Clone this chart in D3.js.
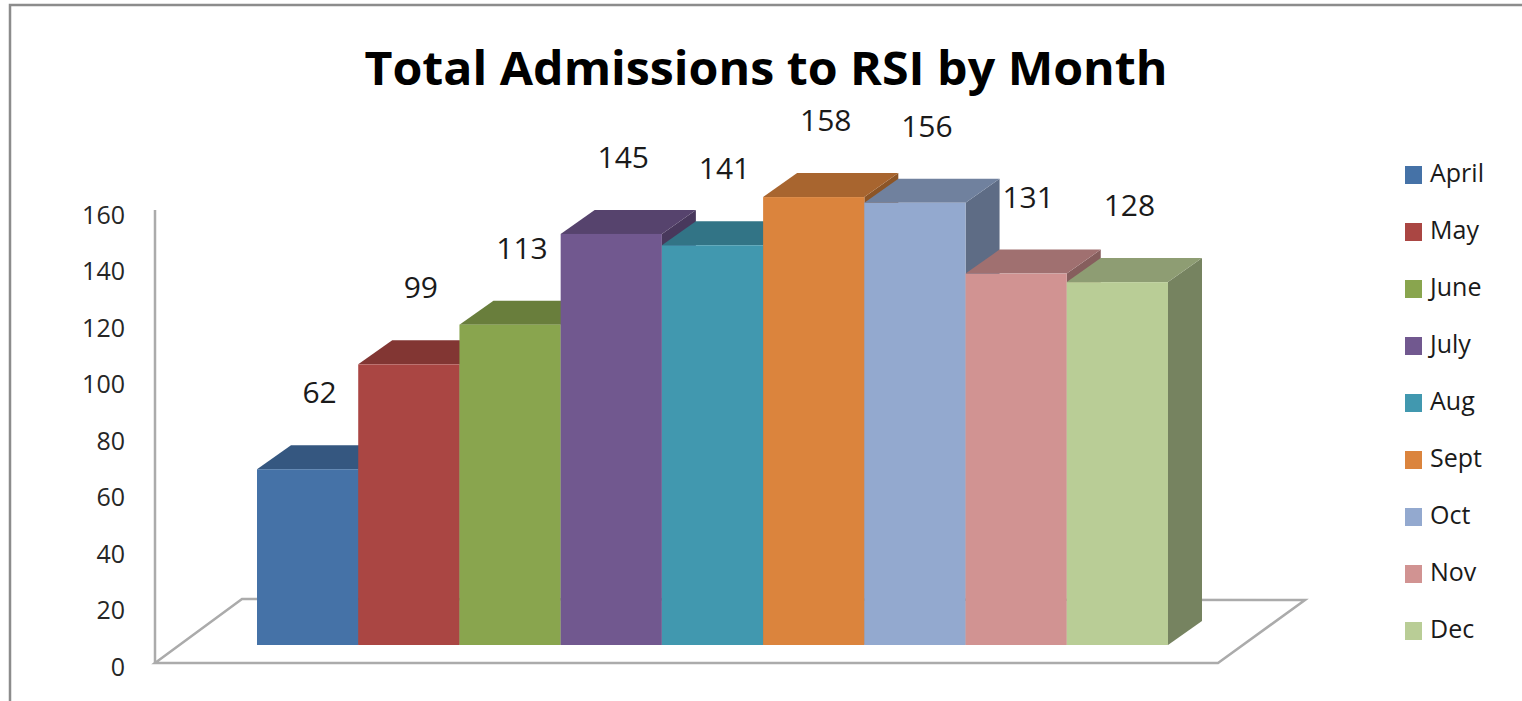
<!DOCTYPE html>
<html>
<head>
<meta charset="utf-8">
<script src="https://cdn.jsdelivr.net/npm/d3@7"></script>
<style>
  body { margin: 0; background: #fff; }
  text { font-family: "Open Sans", sans-serif; }
</style>
</head>
<body>
<div id="chart"></div>
<script>
const months = ["April", "May", "June", "July", "Aug", "Sept", "Oct", "Nov", "Dec"];
const admissions = [62, 99, 113, 145, 141, 158, 156, 131, 128];
const colors = ["#4572A7", "#AA4643", "#89A54E", "#71588F", "#4198AF", "#DB843D", "#93A9CF", "#D19392", "#B9CD96"];
const yTicks = [0, 20, 40, 60, 80, 100, 120, 140, 160];

let width = 1522,
    height = 701;

// floor corners and depth of the 3d box
const floor = { left: 155, right: 1218, front: 663, back: 600, depthX: 87 };
const depth = { dx: 34, dy: -24 };

const svg = d3.select("#chart")
  .append("svg")
  .attr("width", width)
  .attr("height", height);

svg.append("rect").attr("width", width).attr("height", height).attr("fill", "#fff");

// outer frame (only top & left edges are in view)
svg.append("path")
  .attr("d", `M10,${height} V5 H${width}`)
  .attr("fill", "none")
  .attr("stroke", "#8c8c8c")
  .attr("stroke-width", 2.5);

// title
const title = svg.append("text")
  .attr("x", 766)
  .attr("y", 85)
  .attr("text-anchor", "middle")
  .style("font-size", "46px")
  .style("font-weight", "bold")
  .attr("fill", "#000")
  .text("Total Admissions to RSI by Month");
title.attr("textLength", 803).attr("lengthAdjust", "spacingAndGlyphs");

let x = d3.scaleBand()
  .domain(months)
  .range([257, 1168])
  .padding(0);

let y = d3.scaleLinear()
  .domain([0, 160])
  .range([645, 191.4]);

let yAxisScale = d3.scaleLinear()
  .domain([0, 160])
  .range([667, 215]);

// floor
svg.append("path")
  .attr("d", `M${floor.left},${floor.front} L${floor.right},${floor.front} L${floor.right + floor.depthX},${floor.back} L${floor.left + floor.depthX},${floor.back - 1} Z`)
  .attr("fill", "none")
  .attr("stroke", "#ababab")
  .attr("stroke-width", 2.5);

// vertical axis
svg.append("line")
  .attr("x1", floor.left).attr("x2", floor.left)
  .attr("y1", floor.front).attr("y2", 210)
  .attr("stroke", "#ababab")
  .attr("stroke-width", 2.5);

const yAxis = svg.append("g")
  .attr("transform", `translate(${floor.left},0)`)
  .call(d3.axisLeft(yAxisScale).tickValues(yTicks).tickSize(0).tickPadding(30));
yAxis.select(".domain").remove();
yAxis.selectAll("text")
  .style("font-size", "25px")
  .style("font-family", "'Open Sans', sans-serif")
  .attr("fill", "#262626");

// bars: side, top, front, drawn left to right
const bars = svg.append("g")
  .selectAll("g")
  .data(months)
  .join("g");

bars.append("path")
  .attr("fill", (d, i) => d3.color(colors[i]).darker(1.25))
  .attr("d", (d, i) => {
    let x1 = x(d) + x.bandwidth(), yt = y(admissions[i]), yb = y(0);
    return `M${x1},${yb} L${x1 + depth.dx},${yb + depth.dy} L${x1 + depth.dx},${yt + depth.dy} L${x1},${yt} Z`;
  });

bars.append("path")
  .attr("fill", (d, i) => d3.color(colors[i]).darker(0.75))
  .attr("d", (d, i) => {
    let x0 = x(d), x1 = x0 + x.bandwidth(), yt = y(admissions[i]);
    return `M${x0},${yt} L${x0 + depth.dx},${yt + depth.dy} L${x1 + depth.dx},${yt + depth.dy} L${x1},${yt} Z`;
  });

bars.append("rect")
  .attr("x", d => x(d))
  .attr("y", (d, i) => y(admissions[i]))
  .attr("width", x.bandwidth())
  .attr("height", (d, i) => y(0) - y(admissions[i]))
  .attr("fill", (d, i) => colors[i]);

// data labels
svg.append("g")
  .selectAll("text")
  .data(months)
  .join("text")
  .attr("x", d => x(d) + x.bandwidth() / 2 + 12)
  .attr("y", (d, i) => y(admissions[i]) - 74)
  .attr("text-anchor", "middle")
  .attr("dominant-baseline", "middle")
  .style("font-size", "30px")
  .attr("fill", "#1a1a1a")
  .text((d, i) => admissions[i]);

// legend
const legend = svg.append("g")
  .selectAll("g")
  .data(months)
  .join("g")
  .attr("transform", (d, i) => `translate(1405,${175 + i * 57})`);

legend.append("rect")
  .attr("x", 0).attr("y", -9)
  .attr("width", 17).attr("height", 18)
  .attr("fill", (d, i) => colors[i]);

legend.append("text")
  .attr("x", 25)
  .attr("y", 0)
  .attr("dominant-baseline", "middle")
  .style("font-size", "25px")
  .attr("fill", "#1a1a1a")
  .text(d => d);
</script>
</body>
</html>
